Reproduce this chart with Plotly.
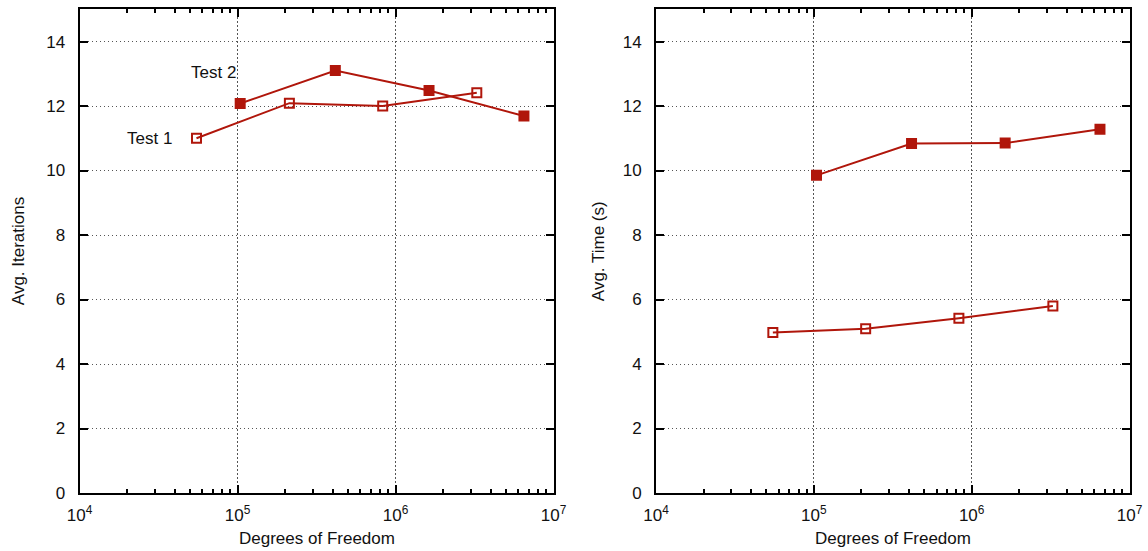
import plotly.graph_objects as go

# Data
dof_test1 = [5.5e4, 2.13e5, 8.3e5, 3.27e6]
dof_test2 = [1.04e5, 4.16e5, 1.63e6, 6.5e6]
iter_test1 = [11.0, 12.09, 12.0, 12.41]
iter_test2 = [12.08, 13.1, 12.48, 11.69]
time_test1 = [4.98, 5.09, 5.42, 5.80]
time_test2 = [9.85, 10.84, 10.85, 11.28]

x_tickvals = [1e4, 1e5, 1e6, 1e7]
x_ticktext = ["10<sup>4</sup>", "10<sup>5</sup>", "10<sup>6</sup>", "10<sup>7</sup>"]
y_tickvals = [0, 2, 4, 6, 8, 10, 12, 14]

RED = "#b0160b"
FONT = "Liberation Sans, Arial, sans-serif"
FS = 17

W, H = 1148, 551
fig = go.Figure()

def px_x(p):
    return p / W

def px_y(p):
    return 1 - p / H

top, bottom = 9.3, 493.0
dom_y = [px_y(bottom), px_y(top)]
dom_x1 = [px_x(79.5), px_x(553.5)]
dom_x2 = [px_x(656.0), px_x(1129.5)]

def add_series(x, y, sym, xa, ya):
    fig.add_trace(go.Scatter(
        x=x, y=y, mode="lines+markers", xaxis=xa, yaxis=ya,
        line=dict(color=RED, width=2),
        marker=dict(symbol=sym, size=9, color=RED,
                    line=dict(color=RED, width=2)),
        showlegend=False))

add_series(dof_test1, iter_test1, "square-open", "x", "y")
add_series(dof_test2, iter_test2, "square", "x", "y")
add_series(dof_test1, time_test1, "square-open", "x2", "y2")
add_series(dof_test2, time_test2, "square", "x2", "y2")

minor_vals = [m * 10 ** e for e in (4, 5, 6) for m in range(2, 10)]

GRID = dict(showgrid=True, gridcolor="#555", griddash="1.3px,2.7px", gridwidth=1)

xaxis_common = dict(
    type="log", range=[4, 7], tickmode="array", tickvals=x_tickvals,
    ticktext=x_ticktext, ticks="inside", ticklen=8, tickwidth=1.5,
    tickcolor="black", showline=True, linecolor="black", linewidth=2,
    mirror="ticks", zeroline=False, ticklabelstandoff=6, automargin=False,
    tickfont=dict(family=FONT, size=FS, color="#111"),
    minor=dict(tickmode="array", tickvals=minor_vals, ticks="inside",
               ticklen=4, tickwidth=1.5, tickcolor="black", showgrid=False),
    **GRID,
)
yaxis_common = dict(
    range=[0, 15], tickmode="array", tickvals=y_tickvals, ticks="inside",
    ticklen=8, tickwidth=1.5, tickcolor="black", showline=True,
    linecolor="black", linewidth=2, mirror="ticks", zeroline=False,
    ticklabelstandoff=9, automargin=False,
    tickfont=dict(family=FONT, size=FS, color="#111"),
    **GRID,
)

fig.update_layout(
    width=W, height=H, margin=dict(l=0, r=0, t=0, b=0, autoexpand=False),
    paper_bgcolor="white", plot_bgcolor="white",
    font=dict(family=FONT, size=FS, color="#111"),
    xaxis=dict(domain=dom_x1, anchor="y", **xaxis_common),
    yaxis=dict(domain=dom_y, anchor="x", **yaxis_common),
    xaxis2=dict(domain=dom_x2, anchor="y2", **xaxis_common),
    yaxis2=dict(domain=dom_y, anchor="x2", **yaxis_common),
)

annots = [
    dict(text="Test 1", x=4.598, y=11.0, xref="x", yref="y",
         xanchor="right", yanchor="middle", showarrow=False),
    dict(text="Test 2", x=5.003, y=13.03, xref="x", yref="y",
         xanchor="right", yanchor="middle", showarrow=False),
    dict(text="Avg. Iterations", x=px_x(18), y=px_y((top + bottom) / 2),
         xref="paper", yref="paper", textangle=-90, showarrow=False,
         xanchor="center", yanchor="middle"),
    dict(text="Avg. Time (s)", x=px_x(598), y=px_y((top + bottom) / 2),
         xref="paper", yref="paper", textangle=-90, showarrow=False,
         xanchor="center", yanchor="middle"),
    dict(text="Degrees of Freedom", x=px_x(316.5), y=px_y(538),
         xref="paper", yref="paper", showarrow=False,
         xanchor="center", yanchor="middle"),
    dict(text="Degrees of Freedom", x=px_x(892.5), y=px_y(538),
         xref="paper", yref="paper", showarrow=False,
         xanchor="center", yanchor="middle"),
]
fig.update_layout(annotations=annots)

fig.write_html("out.html")
